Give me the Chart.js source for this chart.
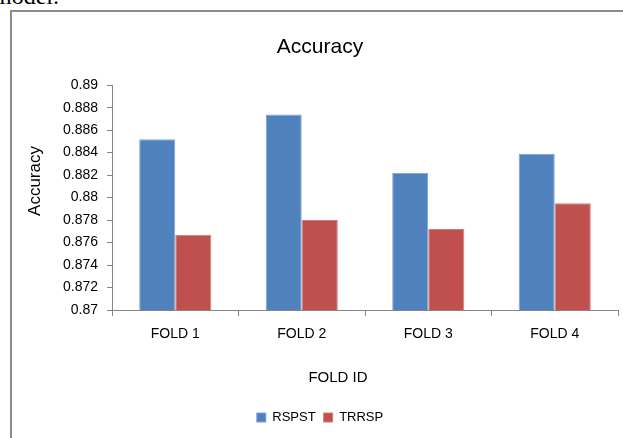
<!DOCTYPE html>
<html>
<head>
<meta charset="utf-8">
<script src="https://cdn.jsdelivr.net/npm/chart.js@4"></script>
<style>
  html, body { margin: 0; padding: 0; background: #fff; width: 623px; height: 438px; overflow: hidden; }
  #lead { position: absolute; left: -7px; top: -17px; font: 24px "Liberation Serif", serif; color: #000; white-space: nowrap; }
  #frame { position: absolute; left: 10px; top: 10px; width: 700px; height: 600px; border-left: 2px solid #8c8c8c; border-top: 2px solid #8c8c8c; }
  #wrap { position: absolute; left: 0; top: 0; width: 623px; height: 438px; }
</style>
</head>
<body>
<div id="lead">model.</div>
<div id="frame"></div>
<div id="wrap"><canvas id="c" width="623" height="438"></canvas></div>
<script>
// Folds and per-fold accuracy for the two methods
const folds = ["FOLD 1", "FOLD 2", "FOLD 3", "FOLD 4"];
const rspst = [0.8852, 0.8874, 0.8822, 0.8839];
const trrsp = [0.8767, 0.8780, 0.8772, 0.8795];
const yMin = 0.87;
const yMax = 0.89;
const yStep = 0.002;

const axisGray = "#868686";
const font = "'Liberation Sans', Arial, sans-serif";

// Axis titles drawn at fixed spots beside the plot area
const axisTitles = {
  id: "axisTitles",
  afterDraw(chart) {
    const ctx = chart.ctx;
    ctx.save();
    ctx.fillStyle = "#000";
    ctx.textAlign = "center";
    ctx.textBaseline = "middle";
    ctx.font = "17px " + font;
    ctx.translate(35, 181);
    ctx.rotate(-Math.PI / 2);
    ctx.fillText("Accuracy", 0, 0);
    ctx.restore();
    ctx.save();
    ctx.fillStyle = "#000";
    ctx.textAlign = "center";
    ctx.textBaseline = "middle";
    ctx.font = "15px " + font;
    ctx.fillText("FOLD ID", 338, 378);
    ctx.restore();
  }
};

new Chart(document.getElementById("c"), {
  type: "bar",
  data: {
    labels: folds,
    datasets: [
      { label: "RSPST", data: rspst, backgroundColor: "#4f81bd", borderColor: "#7da2d2", borderWidth: 1 },
      { label: "TRRSP", data: trrsp, backgroundColor: "#c0504d", borderColor: "#d47a78", borderWidth: 1 }
    ]
  },
  plugins: [axisTitles],
  options: {
    responsive: false,
    animation: false,
    layout: { padding: { left: 22, right: 5, top: 0, bottom: 4 } },
    datasets: { bar: { categoryPercentage: 0.57, barPercentage: 1.0 } },
    plugins: {
      title: {
        display: true,
        text: "Accuracy",
        color: "#000",
        font: { family: font, size: 21, weight: "normal" },
        padding: { top: 35, bottom: 25 }
      },
      legend: {
        position: "bottom",
        labels: {
          boxWidth: 9, boxHeight: 9, padding: 8,
          color: "#000",
          font: { family: font, size: 13 }
        }
      },
      tooltip: { enabled: false }
    },
    scales: {
      x: {
        grid: { display: true, drawOnChartArea: false, tickLength: 6, color: axisGray, offset: true },
        border: { color: axisGray, width: 1 },
        ticks: { color: "#000", font: { family: font, size: 14 }, padding: 10 },
        afterFit: (s) => { s.height = 93; }
      },
      y: {
        min: yMin,
        max: yMax,
        grid: { display: true, drawOnChartArea: false, tickLength: 5, color: axisGray },
        border: { color: axisGray, width: 1 },
        ticks: {
          stepSize: yStep,
          color: "#000",
          font: { family: font, size: 14 },
          padding: 9,
          callback: (v) => String(parseFloat(Number(v).toFixed(3)))
        },
        afterFit: (s) => { s.width = 90; }
      }
    }
  }
});
</script>
</body>
</html>
